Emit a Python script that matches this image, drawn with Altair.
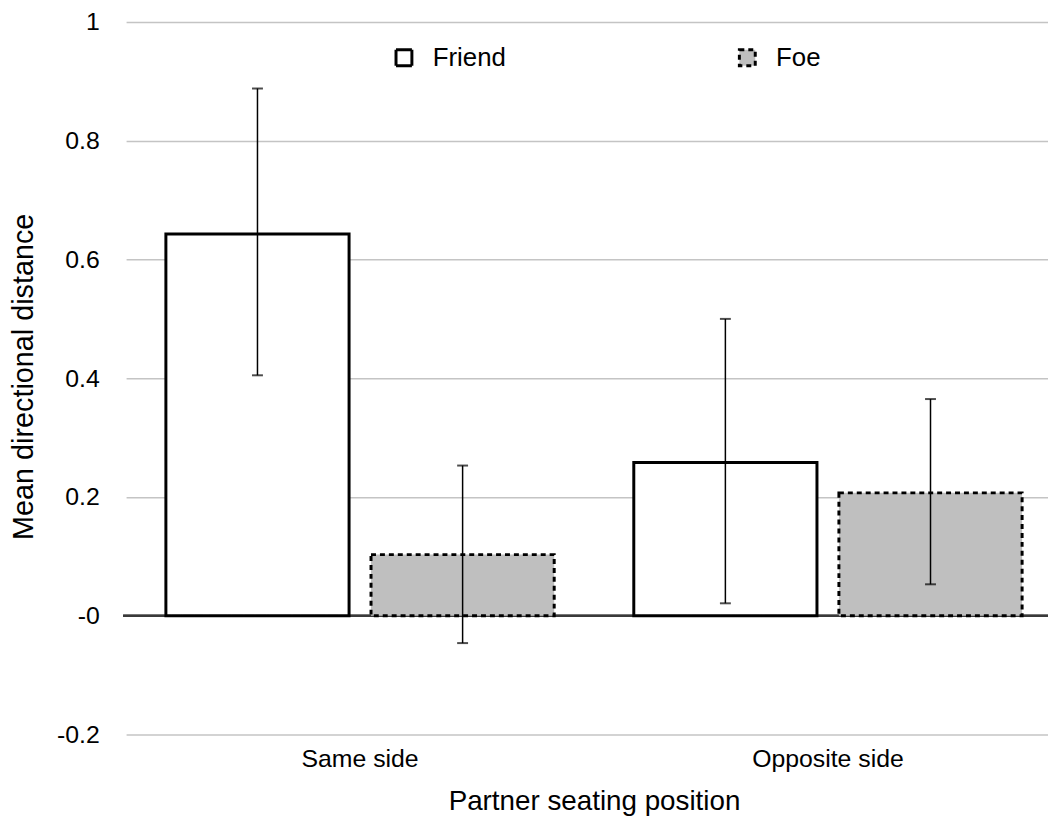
import altair as alt
import pandas as pd

categories = ["Same side", "Opposite side"]
groups = ["Friend", "Foe"]
friend_mean = [0.643, 0.258]
foe_mean = [0.103, 0.207]
friend_low = [0.405, 0.021]
friend_high = [0.888, 0.500]
foe_low = [-0.046, 0.053]
foe_high = [0.253, 0.365]

rows = []
for i, c in enumerate(categories):
    rows.append(dict(cat=c, grp="Friend", mean=friend_mean[i], lo=friend_low[i], hi=friend_high[i]))
    rows.append(dict(cat=c, grp="Foe", mean=foe_mean[i], lo=foe_low[i], hi=foe_high[i]))
df = pd.DataFrame(rows)

FONT = "Liberation Sans"

x_enc = alt.X("cat:N", sort=categories,
              scale=alt.Scale(paddingInner=0, paddingOuter=0, range=[3, 946]),
              axis=alt.Axis(title="Partner seating position", labelAngle=0, domain=False,
                            ticks=False, labelPadding=12, labelFontSize=25,
                            titleFontSize=28, titlePadding=17, labelColor="#000",
                            titleColor="#000", titleFontWeight="normal"))
xo_enc = alt.XOffset("grp:N", sort=groups,
                     scale=alt.Scale(paddingInner=0.107, paddingOuter=0.194))
y_scale = alt.Scale(domain=[-0.2, 1.0], nice=False, zero=False)


def leg():
    return alt.Legend(title=None, orient="none", legendX=270, legendY=23,
                      direction="horizontal", columnPadding=229,
                      symbolType="square", symbolSize=256,
                      symbolStrokeColor="black", symbolStrokeWidth=3,
                      labelFontSize=26, labelOffset=16, labelColor="#000")


bars = alt.Chart(df).mark_bar(strokeWidth=3).encode(
    x=x_enc,
    xOffset=xo_enc,
    y=alt.Y("mean:Q", scale=y_scale,
            axis=alt.Axis(title="Mean directional distance",
                          values=[-0.2, 0, 0.2, 0.4, 0.6, 0.8, 1.0],
                          labelExpr="abs(datum.value) < 1e-9 ? '-0' : (datum.value < 0 ? '-' + format(-datum.value, '~g') : format(datum.value, '~g'))",
                          domain=False, ticks=False, labelPadding=24, labelFontSize=25,
                          titleFontSize=29, titleFontWeight="normal", titleColor="#000",
                          labelColor="#000", grid=True, gridColor="#c4c4c4", gridWidth=1.5,
                          titleX=-100, titleY=357, titleAngle=-90, titleAlign="center",
                          titleBaseline="middle")),
    fill=alt.Fill("grp:N", sort=groups,
                  scale=alt.Scale(domain=groups, range=["#ffffff", "#bfbfbf"]),
                  legend=leg()),
    stroke=alt.Stroke("grp:N", sort=groups,
                      scale=alt.Scale(domain=groups, range=["#000000", "#000000"]),
                      legend=leg()),
    strokeDash=alt.StrokeDash("grp:N", sort=groups,
                              scale=alt.Scale(domain=groups, range=[[1, 0], [5, 4]]),
                              legend=leg()),
)

zero = alt.Chart(df).mark_rule(color="#3a3a3a", strokeWidth=2).encode(
    y=alt.datum(0, scale=y_scale)
)

err = alt.Chart(df).mark_rule(color="black", strokeWidth=1.5).encode(
    x=alt.X("cat:N", sort=categories),
    xOffset=alt.XOffset("grp:N", sort=groups),
    y=alt.Y("lo:Q", scale=y_scale),
    y2="hi:Q",
)

caps_lo = alt.Chart(df).mark_tick(color="black", thickness=2, size=11).encode(
    x=alt.X("cat:N", sort=categories),
    xOffset=alt.XOffset("grp:N", sort=groups),
    y=alt.Y("lo:Q", scale=y_scale),
)
caps_hi = alt.Chart(df).mark_tick(color="black", thickness=2, size=11).encode(
    x=alt.X("cat:N", sort=categories),
    xOffset=alt.XOffset("grp:N", sort=groups),
    y=alt.Y("hi:Q", scale=y_scale),
)

chart = alt.layer(zero, bars, err, caps_lo, caps_hi).properties(
    width=932, height=718,
    autosize=alt.AutoSizeParams(type="none"),
    padding={"left": 116, "top": 11, "right": 0, "bottom": 82},
).configure(font=FONT).configure_view(stroke=None)

chart.save("out.html", embed_options={"renderer": "svg", "actions": False})
